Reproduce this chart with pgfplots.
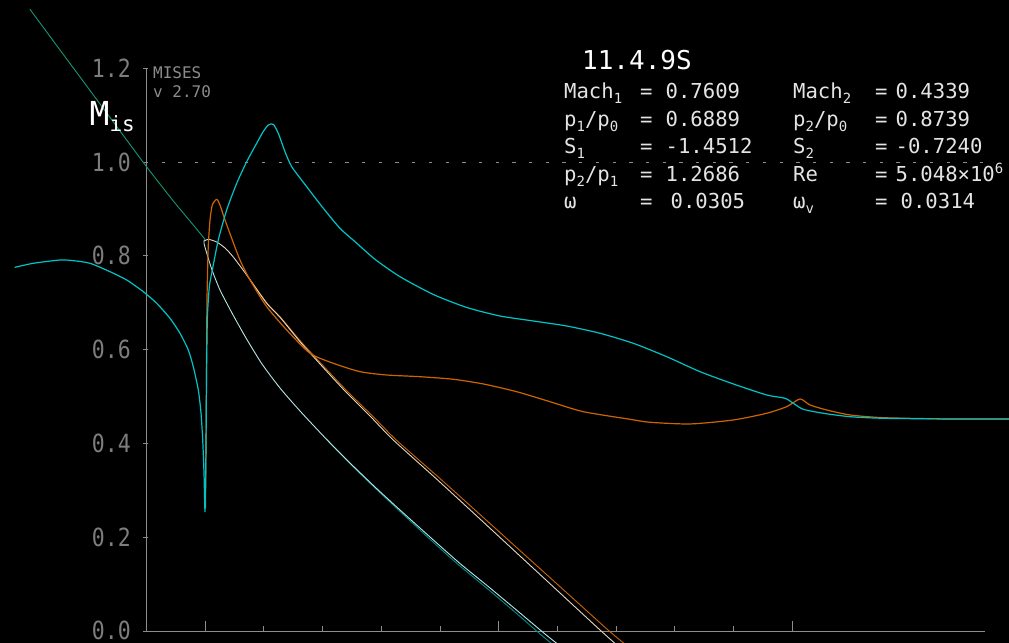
\documentclass[border=0pt]{standalone}
\usepackage{pgfplots}
\pgfplotsset{compat=1.18}
\usepackage{fontspec}
\setmainfont{DejaVu Sans Mono}
\definecolor{cyanM}{RGB}{0,195,200}
\definecolor{orangeM}{RGB}{205,100,0}
\definecolor{creamL}{RGB}{225,215,195}
\definecolor{paleC}{RGB}{180,230,230}
\definecolor{dkgreen}{RGB}{20,150,120}
\definecolor{tealP}{RGB}{0,140,140}
\definecolor{axgray}{RGB}{140,140,140}
\definecolor{lblgray}{RGB}{125,125,125}
\definecolor{txt}{RGB}{228,228,228}
\newcommand\sub[1]{\raisebox{-5pt}{\fontsize{14}{14}\selectfont #1}}
\newcommand\supr[1]{\raisebox{8pt}{\fontsize{14}{14}\selectfont #1}}
\begin{document}
\begin{tikzpicture}
\fill[black] (0,0) rectangle (1009pt,643pt);
\begin{axis}[at={(0,0)}, anchor=south west, width=1009pt, height=643pt, scale only axis,
  xmin=-0.69939, xmax=2.73960, ymin=-0.025586, ymax=1.345416,
  hide axis, no markers, clip=true,
  every axis plot/.append style={line join=round, line cap=round, smooth, tension=0.4}]
% axes
\draw[axgray, line width=0.9pt] (axis cs:-0.2,0) -- (axis cs:2.6564,0);
\draw[axgray, line width=0.9pt] (axis cs:-0.2,0) -- (axis cs:-0.2,1.2);
\draw[axgray, line width=0.8pt, dash pattern=on 3.3pt off 13.4pt] (axis cs:-0.1483,1) -- (axis cs:2.6564,1);
\pgfplotsinvokeforeach{0,0.2,0.4,0.6,0.8,1.0,1.2}{
  \draw[axgray, line width=0.8pt] (axis cs:-0.2120,#1) -- (axis cs:-0.1950,#1);
}
\begin{scope}[every node/.style={anchor=east, inner sep=0pt, text=lblgray, xscale=0.86, font=\fontsize{25}{25}\selectfont}]
\node at (axis cs:-0.2529,0.001) {0.0};
\node at (axis cs:-0.2529,0.2) {0.2};
\node at (axis cs:-0.2529,0.4) {0.4};
\node at (axis cs:-0.2529,0.6) {0.6};
\node at (axis cs:-0.2529,0.8) {0.8};
\node at (axis cs:-0.2529,1.0) {1.0};
\node at (axis cs:-0.2529,1.2) {1.2};
\end{scope}
\pgfplotsinvokeforeach{0.2,0.4,0.6,0.8,1.2,1.4,1.6,1.8}{
  \draw[axgray, line width=0.8pt] (axis cs:#1,0) -- (axis cs:#1,0.0107);
}
\pgfplotsinvokeforeach{0,1,2}{
  \draw[axgray, line width=0.8pt] (axis cs:#1,0) -- (axis cs:#1,0.0213);
}
% dark green line
\addplot[dkgreen, line width=0.9pt] coordinates {
(-0.5971,1.3255) (-0.4949,1.2388) (-0.3926,1.1525) (-0.2904,1.0661) (-0.2018,0.9915)
(-0.1087,0.9168) (-0.0406,0.8657) (-0.0007,0.8352)};
% teal partner
\addplot[tealP, line width=0.9pt] coordinates {
(0.4141,0.4083) (0.4918,0.3582) (0.5753,0.3070) (0.6588,0.2580) (0.7577,0.2004)
(0.8582,0.1439) (0.9588,0.0917) (1.0593,0.0384) (1.1411,-0.0064) (1.1906,-0.0320)};
% orange partner
\addplot[orangeM, line width=0.9pt] coordinates {
(0.1414,0.7591) (0.2106,0.6987) (0.2566,0.6689) (0.3265,0.6168) (0.3964,0.5693)
(0.4833,0.5117) (0.5702,0.4584) (0.6513,0.4072) (0.8057,0.3220) (0.9536,0.2388)
(1.0933,0.1599) (1.2332,0.0810) (1.3729,0.0021) (1.4257,-0.0256) (1.4462,-0.0362)};
% pale cyan line
\addplot[paleC, line width=0.9pt] coordinates {
(-0.0031,0.8337) (-0.0041,0.8266) (0.0051,0.8060) (0.0232,0.7697) (0.0504,0.7271)
(0.0913,0.6780) (0.1391,0.6247) (0.1936,0.5693) (0.2549,0.5181) (0.3231,0.4691)
(0.4141,0.4083) (0.4935,0.3582) (0.5787,0.3070) (0.6639,0.2580) (0.7662,0.2004)
(0.8684,0.1439) (0.9707,0.0917) (1.0729,0.0384) (1.1581,-0.0064) (1.2093,-0.0320)};
% cream line
\addplot[creamL, line width=0.9pt] coordinates {
(-0.0024,0.8316) (0.0106,0.8352) (0.0392,0.8294) (0.0675,0.8166) (0.0948,0.7981)
(0.1414,0.7591) (0.2096,0.6987) (0.2549,0.6689) (0.3231,0.6168) (0.3913,0.5693)
(0.4765,0.5117) (0.5617,0.4584) (0.6411,0.4072) (0.7921,0.3220) (0.9366,0.2388)
(1.0729,0.1599) (1.2093,0.0810) (1.3456,0.0021) (1.3950,-0.0256) (1.4138,-0.0362)};
% orange main
\addplot[orangeM, line width=1.2pt] coordinates {
(0.0010,0.2623) (0.0020,0.3433) (0.0034,0.4499) (0.0048,0.5991) (0.0061,0.7058)
(0.0082,0.7697) (0.0106,0.8230) (0.0164,0.8763) (0.0242,0.9083) (0.0392,0.9205)
(0.0504,0.9083) (0.0675,0.8763) (0.0903,0.8373) (0.1186,0.7910) (0.1527,0.7484)
(0.2096,0.6915) (0.2778,0.6418) (0.3572,0.5921) (0.4366,0.5708) (0.5276,0.5529)
(0.6186,0.5458) (0.7321,0.5422) (0.8456,0.5367) (0.9478,0.5267) (1.0617,0.5102)
(1.1752,0.4889) (1.2887,0.4676) (1.4478,0.4514) (1.5160,0.4450) (1.6524,0.4414)
(1.8000,0.4499) (1.9138,0.4642) (1.9819,0.4783) (2.0273,0.4947) (2.0613,0.4819)
(2.1183,0.4712) (2.1977,0.4606) (2.3112,0.4548) (2.5385,0.4520) (2.7396,0.4520)};
% cyan main
\addplot[cyanM, line width=1.2pt] coordinates {
(-0.6483,0.7755) (-0.5859,0.7840) (-0.4949,0.7910) (-0.4496,0.7896) (-0.3926,0.7840)
(-0.3245,0.7661) (-0.2676,0.7484) (-0.2110,0.7235) (-0.1653,0.6987) (-0.1200,0.6667)
(-0.0859,0.6348) (-0.0576,0.5991) (-0.0406,0.5635) (-0.0235,0.5139) (-0.0143,0.4648)
(-0.0085,0.4072) (-0.0041,0.3369) (-0.0007,0.2544) (0.0017,0.3433) (0.0031,0.4222)
(0.0048,0.5635) (0.0072,0.6631) (0.0106,0.7058) (0.0147,0.7377) (0.0222,0.7627)
(0.0446,0.8337) (0.0733,0.8977) (0.1074,0.9546) (0.1414,1.0006) (0.1755,1.0399)
(0.1970,1.0640) (0.2151,1.0789) (0.2321,1.0804) (0.2491,1.0612) (0.2720,1.0220)
(0.2948,0.9900) (0.3459,0.9473) (0.4025,0.9013) (0.4594,0.8586) (0.5106,0.8301)
(0.5787,0.7925) (0.6639,0.7554) (0.7774,0.7175) (0.8913,0.6898) (1.0048,0.6716)
(1.1183,0.6610) (1.2321,0.6503) (1.3456,0.6348) (1.4591,0.6134) (1.5729,0.5849)
(1.6864,0.5529) (1.8000,0.5267) (1.9138,0.5032) (1.9761,0.4962) (2.0044,0.4855)
(2.0385,0.4727) (2.1067,0.4642) (2.1977,0.4569) (2.3112,0.4535) (2.5385,0.4520)
(2.7396,0.4520)};
\end{axis}
% labels
\node[anchor=base west, inner sep=0pt, text=white, font=\fontsize{33}{33}\selectfont] at (89.5pt,517pt) {M\raisebox{-5.7pt}{\fontsize{21}{21}\selectfont is}};
\node[anchor=base west, inner sep=0pt, text=axgray, font=\fontsize{16}{16}\selectfont] at (153pt,564.7pt) {MISES};
\node[anchor=base west, inner sep=0pt, text=axgray, font=\fontsize{16}{16}\selectfont] at (153pt,545.3pt) {v 2.70};
\node[anchor=base west, inner sep=0pt, text=white, font=\fontsize{26}{26}\selectfont] at (582pt,573.7pt) {11.4.9S};
\begin{scope}[every node/.style={anchor=base west, inner sep=0pt, text=txt, font=\fontsize{20.6}{20.6}\selectfont}]
% left column
\node at (564pt,544.5pt) {Mach\sub{1}};
\node at (564pt,516.8pt) {p\sub{1}/p\sub{0}};
\node at (564pt,489.1pt) {S\sub{1}};
\node at (564pt,461.9pt) {p\sub{2}/p\sub{1}};
\node at (564pt,434.7pt) {ω};
\node at (640pt,544.5pt) {=};
\node at (640pt,516.8pt) {=};
\node at (640pt,489.1pt) {=};
\node at (640pt,461.9pt) {=};
\node at (640pt,434.7pt) {=};
\node at (665.5pt,544.5pt) {0.7609};
\node at (665.5pt,516.8pt) {0.6889};
\node at (665.5pt,489.1pt) {-1.4512};
\node at (665.5pt,461.9pt) {1.2686};
\node at (670.5pt,434.7pt) {0.0305};
% right column
\node at (793pt,544.5pt) {Mach\sub{2}};
\node at (793pt,516.8pt) {p\sub{2}/p\sub{0}};
\node at (793pt,489.1pt) {S\sub{2}};
\node at (793pt,461.9pt) {Re};
\node at (793pt,434.7pt) {ω\sub{v}};
\node at (875pt,544.5pt) {=};
\node at (875pt,516.8pt) {=};
\node at (875pt,489.1pt) {=};
\node at (875pt,461.9pt) {=};
\node at (875pt,434.7pt) {=};
\node at (895.5pt,544.5pt) {0.4339};
\node at (895.5pt,516.8pt) {0.8739};
\node at (895.5pt,489.1pt) {-0.7240};
\node at (895.5pt,461.9pt) {5.048×10\supr{6}};
\node at (900.5pt,434.7pt) {0.0314};
\end{scope}
\end{tikzpicture}
\end{document}
